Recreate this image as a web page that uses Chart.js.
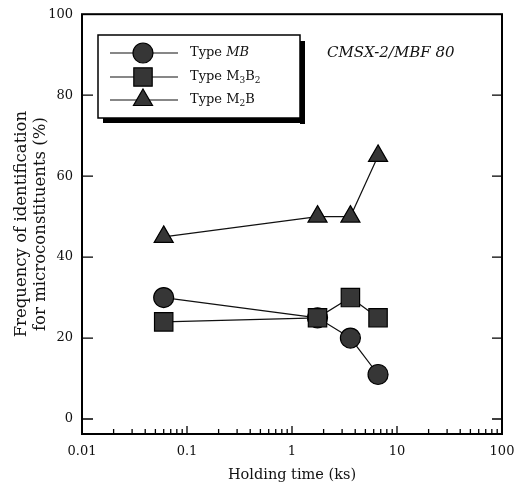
<!DOCTYPE html>
<html>
<head>
    <title>Holding time vs microconstituents</title>
    <script src="https://cdn.jsdelivr.net/npm/chart.js@4.4.0/dist/chart.umd.min.js"></script>
    <style>
        html, body { margin: 0; padding: 0; background: #fff; }
        #wrap { width: 517px; height: 494px; }
    </style>
</head>
<body>
    <div id="wrap"><canvas id="chart" width="517" height="494"></canvas></div>

    <script>
        // data
        const timeKs = [0.06, 1.75, 3.6, 6.6];
        const typeMB = [30, 25, 20, 11];
        const typeM3B2 = [24, 25, 30, 25];
        const typeM2B = [45, 50, 50, 65];

        const xTicks = [0.01, 0.1, 1, 10, 100];
        const xTickLabels = ['0.01', '0.1', '1', '10', '100'];
        const yTicks = [0, 20, 40, 60, 80, 100];

        const serif = '"DejaVu Serif", "Liberation Serif", serif';
        const markFill = '#363636';

        function pts(ys) {
            return timeKs.map((t, i) => ({ x: t, y: ys[i] }));
        }

        const datasets = [
            { label: 'MB', data: pts(typeMB), pointStyle: 'circle', pointRadius: 10, order: 2 },
            { label: 'M3B2', data: pts(typeM3B2), pointStyle: 'rect', pointRadius: 13, order: 1 },
            { label: 'M2B', data: pts(typeM2B), pointStyle: 'triangle', pointRadius: 11, order: 3 }
        ].map(d => Object.assign(d, {
            showLine: true,
            borderColor: '#111',
            borderWidth: 1.2,
            backgroundColor: markFill,
            pointBackgroundColor: markFill,
            pointBorderColor: '#000',
            pointBorderWidth: 1.2,
            pointHoverRadius: d.pointRadius
        }));

        // legend entries: [text, italic?, subscript?]
        const legendRows = [
            { ds: 0, parts: [['Type ', false, false], ['MB', true, false]] },
            { ds: 1, parts: [['Type M', false, false], ['3', false, true], ['B', false, false], ['2', false, true]] },
            { ds: 2, parts: [['Type M', false, false], ['2', false, true], ['B', false, false]] }
        ];

        const framePlugin = {
            id: 'frame',
            afterDatasetsDraw(chart) {
                const ctx = chart.ctx;
                const a = chart.chartArea;
                const xs = chart.scales.x, ys = chart.scales.y;
                ctx.save();
                ctx.strokeStyle = '#000';
                ctx.lineWidth = 2;
                ctx.strokeRect(a.left, a.top, a.right - a.left, a.bottom - a.top);

                // y ticks, inside on both sides
                ctx.lineWidth = 1.3;
                ctx.beginPath();
                yTicks.forEach(v => {
                    const py = ys.getPixelForValue(v);
                    if (v < 100) {
                        ctx.moveTo(a.left, py); ctx.lineTo(a.left + 11, py);
                        ctx.moveTo(a.right, py); ctx.lineTo(a.right - 10, py);
                    }
                });
                // x ticks, inside pointing up
                for (let d = 0.01; d < 100; d *= 10) {
                    for (let m = 1; m <= 9; m++) {
                        const v = d * m;
                        if (v <= 0.01 + 1e-9) continue;
                        const px = xs.getPixelForValue(v);
                        const len = m === 1 ? 8 : 5;
                        ctx.moveTo(px, a.bottom); ctx.lineTo(px, a.bottom - len);
                    }
                }
                ctx.stroke();

                // legend box with drop shadow
                const bx = 98, by = 35, bw = 202, bh = 83;
                ctx.fillStyle = '#000';
                ctx.fillRect(bx + 5, by + bh, bw, 5);
                ctx.fillRect(bx + bw, by + 6, 5, bh);
                ctx.fillStyle = '#fff';
                ctx.fillRect(bx, by, bw, bh);
                ctx.lineWidth = 1.5;
                ctx.strokeRect(bx, by, bw, bh);

                const rowY = [53, 77, 100];
                legendRows.forEach((row, i) => {
                    const ds = chart.data.datasets[row.ds];
                    const y = rowY[i];
                    ctx.strokeStyle = '#111';
                    ctx.lineWidth = 1.2;
                    ctx.beginPath();
                    ctx.moveTo(110, y); ctx.lineTo(178, y);
                    ctx.stroke();
                    ctx.fillStyle = markFill;
                    ctx.strokeStyle = '#000';
                    Chart.helpers.drawPoint(ctx, {
                        pointStyle: ds.pointStyle,
                        radius: ds.pointRadius,
                        rotation: 0,
                        borderWidth: 1.2
                    }, 143, y);

                    let tx = 190;
                    ctx.fillStyle = '#111';
                    ctx.textBaseline = 'middle';
                    row.parts.forEach(p => {
                        const size = p[2] ? 9 : 13;
                        ctx.font = (p[1] ? 'italic ' : '') + size + 'px ' + serif;
                        ctx.fillText(p[0], tx, p[2] ? y + 4 : y);
                        tx += ctx.measureText(p[0]).width;
                    });
                });

                ctx.font = 'italic 15px ' + serif;
                ctx.fillStyle = '#111';
                ctx.textBaseline = 'middle';
                ctx.fillText('CMSX-2/MBF 80', 327, 53);
                ctx.restore();
            }
        };

        new Chart(document.getElementById('chart'), {
            type: 'scatter',
            data: { datasets: datasets },
            plugins: [framePlugin],
            options: {
                responsive: false,
                animation: false,
                events: [],
                layout: { padding: { top: 12, right: 15, left: 0, bottom: 10 } },
                plugins: {
                    legend: { display: false },
                    tooltip: { enabled: false }
                },
                scales: {
                    x: {
                        type: 'logarithmic',
                        min: 0.01,
                        max: 100,
                        afterBuildTicks: s => { s.ticks = xTicks.map(v => ({ value: v })); },
                        afterFit: s => { s.height = 50; s.paddingRight = 0; s.paddingLeft = 0; },
                        grid: { display: false },
                        border: { display: false },
                        ticks: {
                            color: '#111',
                            padding: 2,
                            maxRotation: 0,
                            autoSkip: false,
                            font: { family: serif, size: 13 },
                            callback: (v) => {
                                const i = xTicks.indexOf(v);
                                return i >= 0 ? xTickLabels[i] : '';
                            }
                        },
                        title: {
                            display: true,
                            text: 'Holding time (ks)',
                            color: '#111',
                            padding: { top: 2, bottom: 0 },
                            font: { family: serif, size: 14.5 }
                        }
                    },
                    y: {
                        min: -3.7,
                        max: 100,
                        afterBuildTicks: s => { s.ticks = yTicks.map(v => ({ value: v })); },
                        afterFit: s => { s.width = 82; },
                        grid: { display: false },
                        border: { display: false },
                        ticks: {
                            color: '#111',
                            padding: 1,
                            font: { family: serif, size: 13 }
                        },
                        title: {
                            display: true,
                            text: ['Frequency of identification', 'for microconstituents (%)'],
                            color: '#111',
                            padding: { top: 12, bottom: 0 },
                            font: { family: serif, size: 16.5, lineHeight: 1.15 }
                        }
                    }
                }
            }
        });
    </script>
</body>
</html>
